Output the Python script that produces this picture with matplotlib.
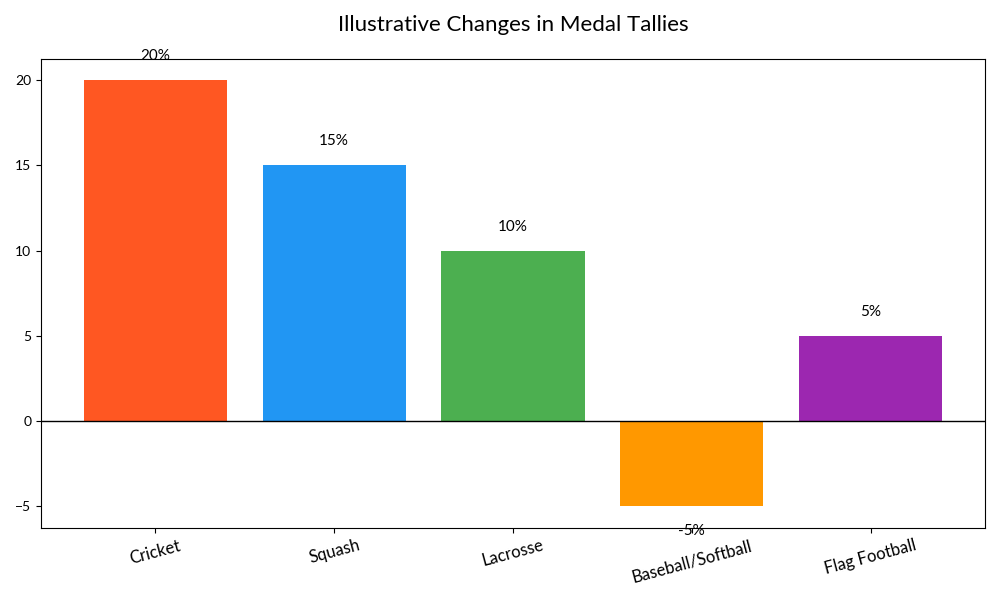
import matplotlib
matplotlib.use("Agg")
import matplotlib.pyplot as plt

plt.rcParams['font.family'] = ['Lato', 'DejaVu Sans']

sports = ["Cricket", "Squash", "Lacrosse", "Baseball/Softball", "Flag Football"]
changes = [20, 15, 10, -5, 5]
colors = ["#FF5722", "#2196F3", "#4CAF50", "#FF9800", "#9C27B0"]

fig, ax = plt.subplots(figsize=(10, 6), dpi=100)
bars = ax.bar(sports, changes, color=colors, width=0.8)
ax.axhline(0, color="black", linewidth=1)

for b, v in zip(bars, changes):
    x = b.get_x() + b.get_width() / 2
    if v >= 0:
        ax.text(x, v + 1, f"{v}%", ha="center", va="bottom", fontsize=11)
    else:
        ax.text(x, v - 1, f"{v}%", ha="center", va="top", fontsize=11)

ax.set_title("Illustrative Changes in Medal Tallies", fontsize=16, pad=20)
plt.setp(ax.get_xticklabels(), rotation=15, fontsize=12)
ax.tick_params(axis="y", labelsize=10)
fig.tight_layout()
fig.savefig("out.png", dpi=100)
